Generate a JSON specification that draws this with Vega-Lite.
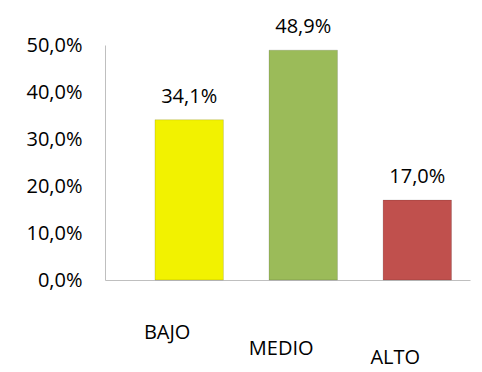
{
  "$schema": "https://vega.github.io/schema/vega-lite/v6.json",
  "width": 365,
  "height": 235,
  "autosize": "none",
  "padding": {"left": 105, "top": 45, "right": 12, "bottom": 92},
  "background": "white",
  "data": {"values": [
    {"nivel": "BAJO", "pct": 0.341, "color": "#F2F200"},
    {"nivel": "MEDIO", "pct": 0.489, "color": "#9BBB59"},
    {"nivel": "ALTO", "pct": 0.170, "color": "#C0504D"}
  ]},
  "config": {
    "view": {"stroke": null},
    "font": "Open Sans",
    "locale": {"number": {"decimal": ",", "thousands": ".", "grouping": [3], "currency": ["", " €"]}}
  },
  "encoding": {
    "x": {"field": "nivel", "type": "nominal", "sort": ["BAJO", "MEDIO", "ALTO"],
      "scale": {"paddingInner": 0.4, "paddingOuter": 0.3, "align": 0.73},
      "axis": {"title": null, "labelAngle": 0, "labelFontSize": 20, "labelColor": "#000000",
        "labelOverlap": false, "labelOffset": -22,
        "labelPadding": {"expr": "datum.value === 'MEDIO' ? 58 : datum.value === 'ALTO' ? 67 : 42"},
        "ticks": false, "domainColor": "#BFBFBF", "domainWidth": 1}},
    "y": {"field": "pct", "type": "quantitative",
      "scale": {"domain": [0, 0.5]},
      "axis": {"title": null, "format": ".1%", "values": [0, 0.1, 0.2, 0.3, 0.4, 0.5], "labelFontSize": 20, "labelColor": "#000000",
        "labelOverlap": false,
        "ticks": false, "grid": false, "domainColor": "#BFBFBF", "labelPadding": 23}}
  },
  "layer": [
    {"mark": {"type": "bar", "strokeWidth": 1},
     "encoding": {"color": {"field": "color", "type": "nominal", "scale": null},
       "stroke": {"value": "#00000022"}}},
    {"mark": {"type": "text", "dy": -23, "baseline": "middle", "fontSize": 20, "color": "#000000"},
     "encoding": {"text": {"field": "pct", "type": "quantitative", "format": ".1%"}}}
  ]
}
